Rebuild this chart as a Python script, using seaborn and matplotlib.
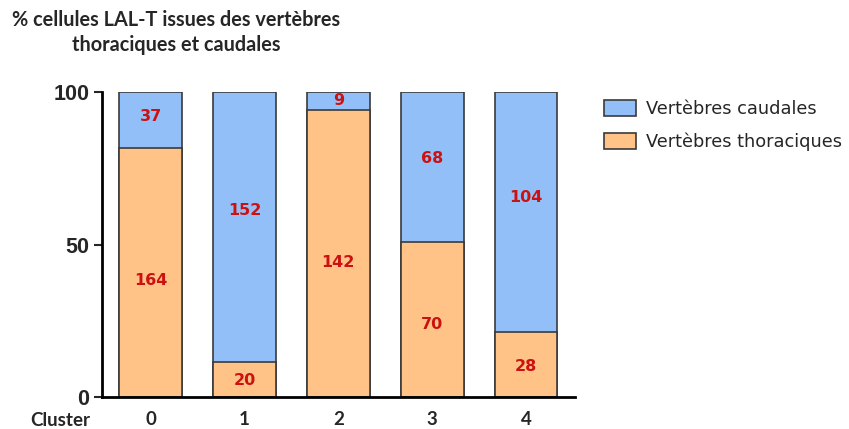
import matplotlib
matplotlib.use("Agg")
import matplotlib.pyplot as plt
import seaborn as sns
import pandas as pd
import numpy as np
from matplotlib.patches import Patch

# Cell counts per cluster
clusters = ["0", "1", "2", "3", "4"]
thoraciques = [164, 20, 142, 70, 28]
caudales = [37, 152, 9, 68, 104]

tot = np.array(thoraciques) + np.array(caudales)
pct_thor = 100 * np.array(thoraciques) / tot

df = pd.DataFrame({"cluster": clusters, "total": [100] * len(clusters), "thor": pct_thor})

c_blue = "#93BFF8"
c_orange = "#FFC388"
edge = "#3a3a3a"

sns.set_style("white")
fig = plt.figure(figsize=(8.49, 4.29), dpi=100)
ax = fig.add_axes([0.120, 0.0746, 0.557, 0.7109])

# full-height caudal bars, thoracic share drawn over them
sns.barplot(data=df, x="cluster", y="total", color=c_blue, width=0.67,
            edgecolor=edge, linewidth=1.2, ax=ax, saturation=1)
sns.barplot(data=df, x="cluster", y="thor", color=c_orange, width=0.67,
            edgecolor=edge, linewidth=1.2, ax=ax, saturation=1)

lab_kw = dict(ha="center", va="center", color="#cc1111", fontsize=11.5,
              fontweight="bold", family="DejaVu Sans")
for i in range(len(clusters)):
    ax.text(i, pct_thor[i] * 0.47, str(thoraciques[i]), **lab_kw)
    ax.text(i, 100 - 0.44 * (100 - pct_thor[i]), str(caudales[i]), **lab_kw)

ax.set_xlim(-0.52, 4.52)
ax.set_ylim(0, 100)
ax.set_yticks([0, 50, 100])
ax.set_yticklabels(["0", "50", "100"], fontsize=15.5, fontweight="bold", family="Liberation Sans")
ax.set_xticklabels(clusters, fontsize=13.5, fontweight="bold", family="Lato")
ax.set_xlabel("")
ax.set_ylabel("")
for s in ["top", "right"]:
    ax.spines[s].set_visible(False)
for s in ["left", "bottom"]:
    ax.spines[s].set_color("black")
    ax.spines[s].set_linewidth(2)
ax.tick_params(axis="y", direction="out", length=6, width=1.5, left=True, pad=3)
ax.tick_params(axis="x", length=0, pad=10)

fig.text(30 / 849, 1 - 421 / 429, "Cluster", ha="left", va="center",
         fontsize=13.5, fontweight="bold", family="Lato")

fig.text(176 / 849, 1 - 20 / 429, "% cellules LAL-T issues des vertèbres",
         ha="center", va="center", fontsize=14.3, fontweight="bold", family="Lato")
fig.text(176 / 849, 1 - 45 / 429, "thoraciques et caudales",
         ha="center", va="center", fontsize=14.3, fontweight="bold", family="Lato")

handles = [Patch(facecolor=c_blue, edgecolor=edge, linewidth=1.2, label="Vertèbres caudales"),
           Patch(facecolor=c_orange, edgecolor=edge, linewidth=1.2, label="Vertèbres thoraciques")]
fig.legend(handles=handles, loc="upper left", bbox_to_anchor=(0.693, 0.805), frameon=False,
           prop={"family": "DejaVu Sans", "size": 12.8}, handlelength=1.8, handleheight=1.0,
           labelspacing=0.85, handletextpad=0.55)

fig.savefig("out.png", dpi=100)
